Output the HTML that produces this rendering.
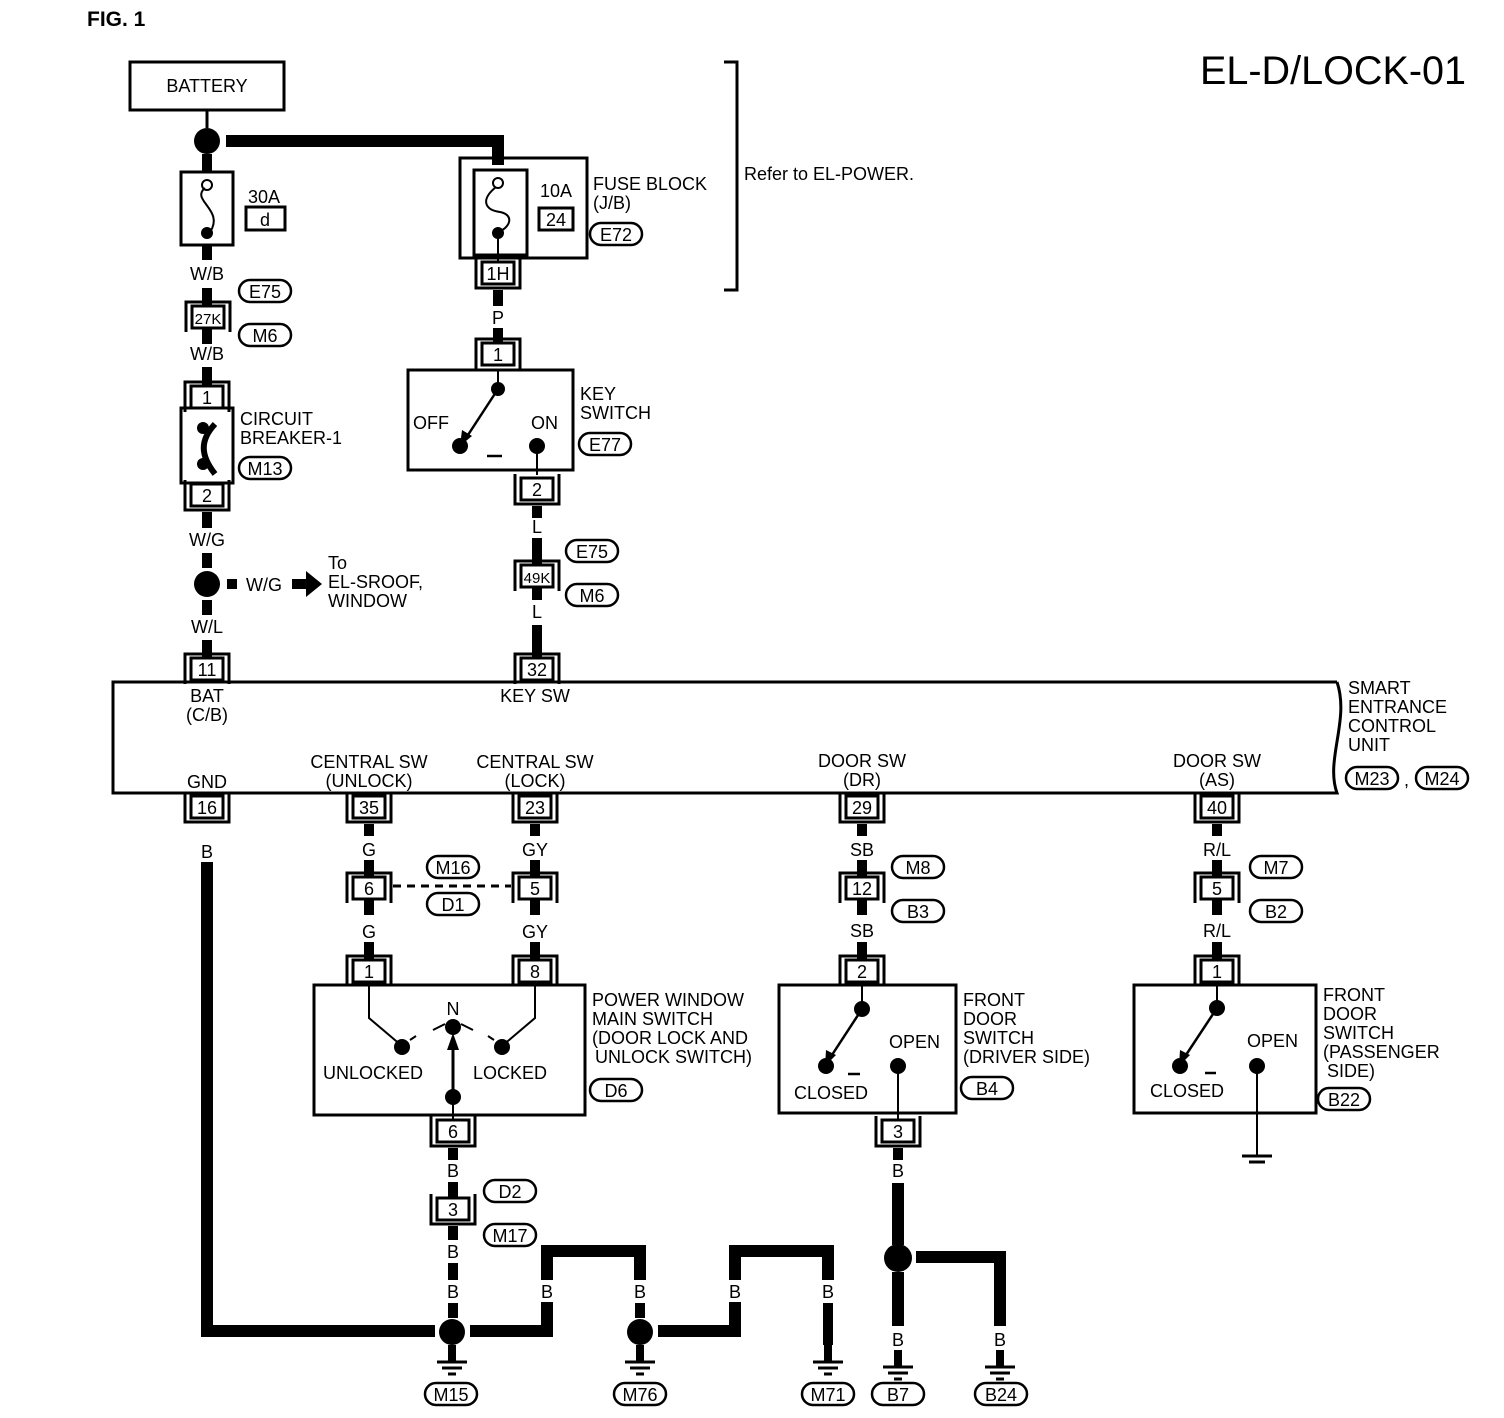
<!DOCTYPE html>
<html><head><meta charset="utf-8"><style>
html,body{margin:0;padding:0;background:#fff}
svg{display:block}
text{font-family:"Liberation Sans",sans-serif;font-size:18px;fill:#000}
.c{text-anchor:middle}
</style></head><body>
<svg width="1504" height="1418" viewBox="0 0 1504 1418" xmlns="http://www.w3.org/2000/svg">
<defs>
<g id="ct"><path d="M-22,26 V-4 H22 V26" fill="none" stroke="#000" stroke-width="3"/><rect x="-16" y="0" width="32" height="22" fill="#fff" stroke="#000" stroke-width="3"/></g>
<g id="cb"><path d="M-22,-4 V26 H22 V-4" fill="none" stroke="#000" stroke-width="3"/><rect x="-16" y="0" width="32" height="22" fill="#fff" stroke="#000" stroke-width="3"/></g>
<g id="gnd"><line x1="0" y1="0" x2="0" y2="16" stroke="#000" stroke-width="8"/><line x1="-15" y1="17" x2="15" y2="17" stroke="#000" stroke-width="3"/><line x1="-10" y1="23" x2="10" y2="23" stroke="#000" stroke-width="3"/><line x1="-4" y1="29" x2="4" y2="29" stroke="#000" stroke-width="3"/></g>
<g id="ov"><rect x="-26" y="-11" width="52" height="22" rx="11" fill="#fff" stroke="#000" stroke-width="2.5"/></g>
</defs>
<text x="87" y="26" style="font-size:21px;font-weight:bold">FIG. 1</text>
<text x="1200" y="84" style="font-size:40px" textLength="266" lengthAdjust="spacingAndGlyphs">EL-D/LOCK-01</text>

<!-- battery -->
<rect x="130" y="62" width="154" height="48" fill="none" stroke="#000" stroke-width="3"/>
<text x="207" y="92" class="c">BATTERY</text>
<line x1="207" y1="110" x2="207" y2="128" stroke="#000" stroke-width="3"/>
<circle cx="207" cy="141" r="13"/>
<path d="M226,141 H498 V165" fill="none" stroke="#000" stroke-width="12"/>

<!-- fuse 30A -->
<line x1="207" y1="154" x2="207" y2="172" stroke="#000" stroke-width="10"/>
<rect x="181" y="172" width="52" height="73" fill="none" stroke="#000" stroke-width="3"/>
<circle cx="207" cy="185" r="5" fill="#fff" stroke="#000" stroke-width="2"/>
<path d="M205,188 C190,200 225,210 210,232" fill="none" stroke="#000" stroke-width="2"/>
<circle cx="207" cy="233" r="6"/>
<text x="248" y="203">30A</text>
<rect x="246" y="207" width="39" height="23" fill="none" stroke="#000" stroke-width="3"/>
<text x="265" y="226" class="c">d</text>
<line x1="207" y1="245" x2="207" y2="260" stroke="#000" stroke-width="10"/>
<text x="207" y="280" class="c">W/B</text>
<line x1="207" y1="288" x2="207" y2="306" stroke="#000" stroke-width="10"/>
<use href="#ct" x="208" y="306"/><text x="208" y="324" class="c" style="font-size:15px">27K</text>
<use href="#ov" x="265" y="291"/><text x="265" y="298" class="c">E75</text>
<use href="#ov" x="265" y="335"/><text x="265" y="342" class="c">M6</text>
<line x1="207" y1="328" x2="207" y2="344" stroke="#000" stroke-width="10"/>
<text x="207" y="360" class="c">W/B</text>
<line x1="207" y1="367" x2="207" y2="386" stroke="#000" stroke-width="10"/>
<use href="#ct" x="207" y="386"/><text x="207" y="404" class="c">1</text>
<rect x="181" y="408" width="52" height="75" fill="none" stroke="#000" stroke-width="3"/>
<circle cx="203" cy="428" r="6"/><circle cx="203" cy="464" r="6"/>
<path d="M215,424 C200,440 200,455 215,474" fill="none" stroke="#000" stroke-width="6"/>
<text x="240" y="425">CIRCUIT</text><text x="240" y="444">BREAKER-1</text>
<use href="#ov" x="265" y="468"/><text x="265" y="475" class="c">M13</text>
<use href="#cb" x="207" y="484"/><text x="207" y="502" class="c">2</text>
<line x1="207" y1="512" x2="207" y2="528" stroke="#000" stroke-width="10"/>
<text x="207" y="546" class="c">W/G</text>
<line x1="207" y1="553" x2="207" y2="568" stroke="#000" stroke-width="10"/>
<circle cx="207" cy="584" r="13"/>
<rect x="227" y="579" width="10" height="10"/>
<text x="246" y="591">W/G</text>
<path d="M292,579 H306 V571 L322,584 L306,597 V589 H292 Z"/>
<text x="328" y="569">To</text><text x="328" y="588">EL-SROOF,</text><text x="328" y="607">WINDOW</text>
<line x1="207" y1="600" x2="207" y2="615" stroke="#000" stroke-width="10"/>
<text x="207" y="633" class="c">W/L</text>
<line x1="207" y1="640" x2="207" y2="658" stroke="#000" stroke-width="10"/>
<use href="#ct" x="207" y="658"/><text x="207" y="676" class="c">11</text>

<!-- fuse block -->
<rect x="460" y="158" width="127" height="100" fill="none" stroke="#000" stroke-width="3"/>
<rect x="474" y="170" width="53" height="85" fill="none" stroke="#000" stroke-width="3"/>
<circle cx="498" cy="183" r="5" fill="#fff" stroke="#000" stroke-width="2"/>
<path d="M496,187 C480,200 485,210 500,212 C515,215 510,228 498,232" fill="none" stroke="#000" stroke-width="2"/>
<circle cx="498" cy="233" r="6"/>
<line x1="498" y1="233" x2="498" y2="262" stroke="#000" stroke-width="2"/>
<text x="540" y="197">10A</text>
<rect x="539" y="208" width="34" height="22" fill="none" stroke="#000" stroke-width="3"/>
<text x="556" y="226" class="c">24</text>
<use href="#cb" x="498" y="262"/><text x="498" y="280" class="c">1H</text>
<text x="593" y="190">FUSE BLOCK</text><text x="593" y="209">(J/B)</text>
<use href="#ov" x="616" y="234"/><text x="616" y="241" class="c">E72</text>
<path d="M724,62 H737 V290 H724" fill="none" stroke="#000" stroke-width="3"/>
<text x="744" y="180">Refer to EL-POWER.</text>

<!-- key switch -->
<line x1="498" y1="290" x2="498" y2="306" stroke="#000" stroke-width="10"/>
<text x="498" y="324" class="c">P</text>
<line x1="498" y1="328" x2="498" y2="343" stroke="#000" stroke-width="10"/>
<use href="#ct" x="498" y="343"/><text x="498" y="361" class="c">1</text>
<rect x="408" y="370" width="165" height="100" fill="none" stroke="#000" stroke-width="3"/>
<line x1="498" y1="370" x2="498" y2="389" stroke="#000" stroke-width="2"/>
<circle cx="498" cy="389" r="7"/>
<line x1="498" y1="389" x2="466" y2="438" stroke="#000" stroke-width="2.5"/>
<path d="M460,446 L462,430 L472,436 Z"/>
<circle cx="460" cy="446" r="8"/><circle cx="537" cy="446" r="8"/>
<line x1="487" y1="456" x2="502" y2="456" stroke="#000" stroke-width="2.5"/>
<line x1="537" y1="446" x2="537" y2="475" stroke="#000" stroke-width="2"/>
<text x="413" y="429">OFF</text><text x="531" y="429">ON</text>
<text x="580" y="400">KEY</text><text x="580" y="419">SWITCH</text>
<use href="#ov" x="605" y="444"/><text x="605" y="451" class="c">E77</text>
<use href="#cb" x="537" y="478"/><text x="537" y="496" class="c">2</text>
<line x1="537" y1="506" x2="537" y2="518" stroke="#000" stroke-width="10"/>
<text x="537" y="533" class="c">L</text>
<line x1="537" y1="538" x2="537" y2="565" stroke="#000" stroke-width="10"/>
<use href="#ct" x="537" y="565"/><text x="537" y="583" class="c" style="font-size:15px">49K</text>
<use href="#ov" x="592" y="551"/><text x="592" y="558" class="c">E75</text>
<use href="#ov" x="592" y="595"/><text x="592" y="602" class="c">M6</text>
<line x1="537" y1="588" x2="537" y2="600" stroke="#000" stroke-width="10"/>
<text x="537" y="618" class="c">L</text>
<line x1="537" y1="625" x2="537" y2="658" stroke="#000" stroke-width="10"/>
<use href="#ct" x="537" y="658"/><text x="537" y="676" class="c">32</text>

<!-- SECU -->
<path d="M1337,682 H113 V793 H1337 C1325,760 1350,720 1337,682" fill="none" stroke="#000" stroke-width="3"/>
<text x="207" y="702" class="c">BAT</text><text x="207" y="721" class="c">(C/B)</text>
<text x="535" y="702" class="c">KEY SW</text>
<text x="207" y="788" class="c">GND</text>
<text x="369" y="768" class="c">CENTRAL SW</text><text x="369" y="787" class="c">(UNLOCK)</text>
<text x="535" y="768" class="c">CENTRAL SW</text><text x="535" y="787" class="c">(LOCK)</text>
<text x="862" y="767" class="c">DOOR SW</text><text x="862" y="786" class="c">(DR)</text>
<text x="1217" y="767" class="c">DOOR SW</text><text x="1217" y="786" class="c">(AS)</text>
<text x="1348" y="694">SMART</text><text x="1348" y="713">ENTRANCE</text><text x="1348" y="732">CONTROL</text><text x="1348" y="751">UNIT</text>
<use href="#ov" x="1372" y="778"/><text x="1372" y="785" class="c">M23</text>
<text x="1404" y="786">,</text>
<use href="#ov" x="1442" y="778"/><text x="1442" y="785" class="c">M24</text>

<!-- bottom connectors -->
<use href="#cb" x="207" y="796"/><text x="207" y="814" class="c">16</text>
<use href="#cb" x="369" y="796"/><text x="369" y="814" class="c">35</text>
<use href="#cb" x="535" y="796"/><text x="535" y="814" class="c">23</text>
<use href="#cb" x="862" y="796"/><text x="862" y="814" class="c">29</text>
<use href="#cb" x="1217" y="796"/><text x="1217" y="814" class="c">40</text>

<!-- GND wire -->
<text x="207" y="858" class="c">B</text>
<path d="M207,862 V1331 H435" fill="none" stroke="#000" stroke-width="12"/>

<!-- central switch columns -->
<g stroke="#000" stroke-width="10">
<line x1="369" y1="824" x2="369" y2="836"/><line x1="369" y1="860" x2="369" y2="877"/><line x1="369" y1="900" x2="369" y2="915"/><line x1="369" y1="942" x2="369" y2="960"/>
<line x1="535" y1="824" x2="535" y2="836"/><line x1="535" y1="860" x2="535" y2="877"/><line x1="535" y1="900" x2="535" y2="915"/><line x1="535" y1="942" x2="535" y2="960"/>
</g>
<text x="369" y="856" class="c">G</text><text x="369" y="938" class="c">G</text>
<text x="535" y="856" class="c">GY</text><text x="535" y="938" class="c">GY</text>
<use href="#ct" x="369" y="877"/><text x="369" y="895" class="c">6</text>
<use href="#ct" x="535" y="877"/><text x="535" y="895" class="c">5</text>
<line x1="393" y1="886" x2="511" y2="886" stroke="#000" stroke-width="3" stroke-dasharray="8,6"/>
<use href="#ov" x="453" y="867"/><text x="453" y="874" class="c">M16</text>
<use href="#ov" x="453" y="904"/><text x="453" y="911" class="c">D1</text>
<use href="#ct" x="369" y="960"/><text x="369" y="978" class="c">1</text>
<use href="#ct" x="535" y="960"/><text x="535" y="978" class="c">8</text>
<rect x="314" y="985" width="271" height="130" fill="none" stroke="#000" stroke-width="3"/>
<path d="M369,985 V1018 L402,1046 M535,985 V1018 L502,1046" fill="none" stroke="#000" stroke-width="2"/>
<circle cx="402" cy="1047" r="8"/><circle cx="502" cy="1047" r="8"/>
<circle cx="453" cy="1027" r="8"/>
<path d="M433,1030 L445,1024 M461,1024 L473,1030 M410,1040 L416,1036 M488,1036 L494,1040" stroke="#000" stroke-width="2"/>
<line x1="453" y1="1097" x2="453" y2="1045" stroke="#000" stroke-width="3"/>
<path d="M453,1033 L447,1050 H459 Z"/>
<circle cx="453" cy="1097" r="8"/>
<line x1="453" y1="1097" x2="453" y2="1120" stroke="#000" stroke-width="2"/>
<text x="453" y="1015" class="c">N</text>
<text x="323" y="1079">UNLOCKED</text><text x="473" y="1079">LOCKED</text>
<text x="592" y="1006">POWER WINDOW</text><text x="592" y="1025">MAIN SWITCH</text><text x="592" y="1044">(DOOR LOCK AND</text><text x="595" y="1063">UNLOCK SWITCH)</text>
<use href="#ov" x="616" y="1090"/><text x="616" y="1097" class="c">D6</text>
<use href="#cb" x="453" y="1120"/><text x="453" y="1138" class="c">6</text>
<line x1="453" y1="1148" x2="453" y2="1160" stroke="#000" stroke-width="10"/>
<text x="453" y="1177" class="c">B</text>
<line x1="453" y1="1182" x2="453" y2="1198" stroke="#000" stroke-width="10"/>
<use href="#cb" x="453" y="1198"/><text x="453" y="1216" class="c">3</text>
<use href="#ov" x="510" y="1191"/><text x="510" y="1198" class="c">D2</text>
<use href="#ov" x="510" y="1235"/><text x="510" y="1242" class="c">M17</text>
<line x1="453" y1="1226" x2="453" y2="1240" stroke="#000" stroke-width="10"/>
<text x="453" y="1258" class="c">B</text>
<line x1="453" y1="1263" x2="453" y2="1280" stroke="#000" stroke-width="10"/>
<text x="453" y="1298" class="c">B</text>
<line x1="453" y1="1303" x2="453" y2="1318" stroke="#000" stroke-width="10"/>
<circle cx="452" cy="1332" r="13"/>
<use href="#gnd" x="452" y="1345"/>
<use href="#ov" x="451" y="1394"/><text x="451" y="1401" class="c">M15</text>
<path d="M470,1331 H547 V1251 H640 V1280" fill="none" stroke="#000" stroke-width="12"/>
<rect x="538" y="1280" width="18" height="22" fill="#fff"/>
<text x="547" y="1298" class="c">B</text>
<text x="640" y="1298" class="c">B</text>
<line x1="640" y1="1303" x2="640" y2="1318" stroke="#000" stroke-width="10"/>
<circle cx="640" cy="1332" r="13"/>
<use href="#gnd" x="640" y="1345"/>
<use href="#ov" x="640" y="1394"/><text x="640" y="1401" class="c">M76</text>
<path d="M658,1331 H735 V1251 H828 V1280" fill="none" stroke="#000" stroke-width="12"/>
<rect x="726" y="1280" width="18" height="22" fill="#fff"/>
<text x="735" y="1298" class="c">B</text>
<text x="828" y="1298" class="c">B</text>
<line x1="828" y1="1303" x2="828" y2="1345" stroke="#000" stroke-width="10"/>
<use href="#gnd" x="828" y="1345"/>
<use href="#ov" x="828" y="1394"/><text x="828" y="1401" class="c">M71</text>

<!-- driver door -->
<g stroke="#000" stroke-width="10">
<line x1="862" y1="824" x2="862" y2="836"/><line x1="862" y1="860" x2="862" y2="877"/><line x1="862" y1="900" x2="862" y2="915"/><line x1="862" y1="942" x2="862" y2="960"/>
<line x1="1217" y1="824" x2="1217" y2="836"/><line x1="1217" y1="860" x2="1217" y2="877"/><line x1="1217" y1="900" x2="1217" y2="915"/><line x1="1217" y1="942" x2="1217" y2="960"/>
</g>
<text x="862" y="856" class="c">SB</text><text x="862" y="937" class="c">SB</text>
<use href="#ct" x="862" y="877"/><text x="862" y="895" class="c">12</text>
<use href="#ov" x="918" y="867"/><text x="918" y="874" class="c">M8</text>
<use href="#ov" x="918" y="911"/><text x="918" y="918" class="c">B3</text>
<use href="#ct" x="862" y="960"/><text x="862" y="978" class="c">2</text>
<rect x="779" y="985" width="177" height="128" fill="none" stroke="#000" stroke-width="3"/>
<line x1="862" y1="985" x2="862" y2="1009" stroke="#000" stroke-width="2"/>
<circle cx="862" cy="1009" r="8"/>
<line x1="862" y1="1009" x2="830" y2="1058" stroke="#000" stroke-width="2.5"/>
<path d="M825,1066 L826,1050 L836,1055 Z"/>
<circle cx="826" cy="1066" r="8"/><circle cx="898" cy="1066" r="8"/>
<line x1="848" y1="1074" x2="860" y2="1074" stroke="#000" stroke-width="2.5"/>
<line x1="898" y1="1066" x2="898" y2="1120" stroke="#000" stroke-width="2"/>
<text x="794" y="1099">CLOSED</text><text x="889" y="1048">OPEN</text>
<text x="963" y="1006">FRONT</text><text x="963" y="1025">DOOR</text><text x="963" y="1044">SWITCH</text><text x="963" y="1063">(DRIVER SIDE)</text>
<use href="#ov" x="987" y="1088"/><text x="987" y="1095" class="c">B4</text>
<use href="#cb" x="898" y="1120"/><text x="898" y="1138" class="c">3</text>
<line x1="898" y1="1148" x2="898" y2="1160" stroke="#000" stroke-width="10"/>
<text x="898" y="1177" class="c">B</text>
<line x1="898" y1="1183" x2="898" y2="1245" stroke="#000" stroke-width="12"/>
<circle cx="898" cy="1258" r="14"/>
<path d="M916,1257 H1000 V1326" fill="none" stroke="#000" stroke-width="12"/>
<line x1="898" y1="1272" x2="898" y2="1326" stroke="#000" stroke-width="12"/>
<text x="898" y="1346" class="c">B</text><text x="1000" y="1346" class="c">B</text>
<use href="#gnd" x="898" y="1350"/><use href="#gnd" x="1000" y="1350"/>
<use href="#ov" x="898" y="1394"/><text x="898" y="1401" class="c">B7</text>
<use href="#ov" x="1001" y="1394"/><text x="1001" y="1401" class="c">B24</text>

<!-- passenger door -->
<text x="1217" y="856" class="c">R/L</text><text x="1217" y="937" class="c">R/L</text>
<use href="#ct" x="1217" y="877"/><text x="1217" y="895" class="c">5</text>
<use href="#ov" x="1276" y="867"/><text x="1276" y="874" class="c">M7</text>
<use href="#ov" x="1276" y="911"/><text x="1276" y="918" class="c">B2</text>
<use href="#ct" x="1217" y="960"/><text x="1217" y="978" class="c">1</text>
<rect x="1134" y="985" width="182" height="128" fill="none" stroke="#000" stroke-width="3"/>
<line x1="1217" y1="985" x2="1217" y2="1008" stroke="#000" stroke-width="2"/>
<circle cx="1217" cy="1008" r="8"/>
<line x1="1217" y1="1008" x2="1184" y2="1058" stroke="#000" stroke-width="2.5"/>
<path d="M1179,1066 L1180,1050 L1190,1055 Z"/>
<circle cx="1180" cy="1066" r="8"/><circle cx="1257" cy="1066" r="8"/>
<line x1="1205" y1="1073" x2="1216" y2="1073" stroke="#000" stroke-width="2.5"/>
<line x1="1257" y1="1066" x2="1257" y2="1155" stroke="#000" stroke-width="2"/>
<line x1="1242" y1="1156" x2="1272" y2="1156" stroke="#000" stroke-width="3"/>
<line x1="1249" y1="1162" x2="1265" y2="1162" stroke="#000" stroke-width="3"/>
<text x="1150" y="1097">CLOSED</text><text x="1247" y="1047">OPEN</text>
<text x="1323" y="1001">FRONT</text><text x="1323" y="1020">DOOR</text><text x="1323" y="1039">SWITCH</text><text x="1323" y="1058">(PASSENGER</text><text x="1327" y="1077">SIDE)</text>
<use href="#ov" x="1344" y="1099"/><text x="1344" y="1106" class="c">B22</text>
</svg>
</body></html>
